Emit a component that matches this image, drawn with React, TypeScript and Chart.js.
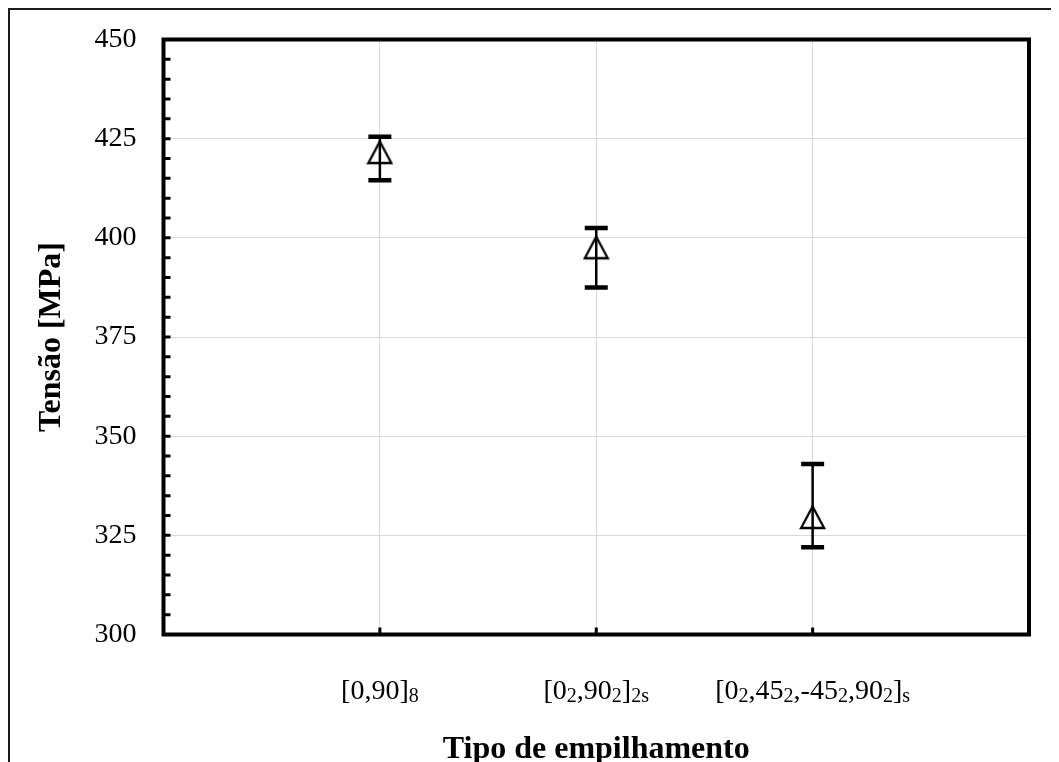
import React, { useEffect, useRef } from 'react';
import { Chart, registerables } from 'chart.js';

Chart.register(...registerables);

// Category labels: text inside {...} is a subscript
const categories = ['[0,90]{8}', '[0{2},90{2}]{2s}', '[0{2},45{2},-45{2},90{2}]{s}'];
const meanValues = [421.5, 397.5, 329.5];
const upperValues = [425.5, 402.5, 343];
const lowerValues = [414.5, 387.5, 322];
const yTickValues = [300, 325, 350, 375, 400, 425, 450];
const yMinorStep = 5;
const xTitle = 'Tipo de empilhamento';
const yTitle = 'Tensão [MPa]';

const FONT = "'Liberation Serif', 'Times New Roman', serif";
const CANVAS_W = 1100;
const CANVAS_H = 790;

function parseLabel(label: string) {
  const parts: { text: string; sub: boolean }[] = [];
  const re = /\{([^}]*)\}|([^{]+)/g;
  let m: RegExpExecArray | null;
  while ((m = re.exec(label)) !== null) {
    if (m[1] !== undefined) parts.push({ text: m[1], sub: true });
    else parts.push({ text: m[2], sub: false });
  }
  return parts;
}

function makeTriangleMarker() {
  const w = 27;
  const h = 27;
  const c = document.createElement('canvas');
  c.width = w;
  c.height = h;
  const g = c.getContext('2d')!;
  g.strokeStyle = '#000';
  g.lineWidth = 2.3;
  g.lineJoin = 'miter';
  g.beginPath();
  g.moveTo(w / 2, 2.5);
  g.lineTo(w / 2 + 11.5, h - 3);
  g.lineTo(w / 2 - 11.5, h - 3);
  g.closePath();
  g.stroke();
  return c;
}

const decorPlugin = {
  id: 'decor',
  beforeDatasetsDraw(chart: any) {
    const { ctx, scales } = chart;
    const x = scales.x;
    const y = scales.y;
    ctx.save();
    ctx.strokeStyle = '#000';
    meanValues.forEach((_, i) => {
      const px = x.getPixelForValue(i + 1);
      const top = y.getPixelForValue(upperValues[i]);
      const bot = y.getPixelForValue(lowerValues[i]);
      ctx.lineWidth = 2.5;
      ctx.beginPath();
      ctx.moveTo(px, top);
      ctx.lineTo(px, bot);
      ctx.stroke();
      ctx.lineWidth = 4.5;
      ctx.beginPath();
      ctx.moveTo(px - 11.5, top);
      ctx.lineTo(px + 11.5, top);
      ctx.moveTo(px - 11.5, bot);
      ctx.lineTo(px + 11.5, bot);
      ctx.stroke();
    });
    ctx.restore();
  },
  afterDraw(chart: any) {
    const { ctx, chartArea, scales } = chart;
    const x = scales.x;
    const y = scales.y;
    const { left, right, top, bottom } = chartArea;
    ctx.save();
    // ticks
    ctx.strokeStyle = '#000';
    ctx.lineWidth = 3;
    ctx.beginPath();
    for (let v = y.min; v <= y.max + 1e-9; v += yMinorStep) {
      const py = y.getPixelForValue(v);
      ctx.moveTo(left, py);
      ctx.lineTo(left + 7, py);
    }
    categories.forEach((_, i) => {
      const px = x.getPixelForValue(i + 1);
      ctx.moveTo(px, bottom);
      ctx.lineTo(px, bottom - 7);
    });
    ctx.stroke();
    // frame
    ctx.lineWidth = 4;
    ctx.lineJoin = 'miter';
    ctx.strokeRect(left, top, right - left, bottom - top);
    // category labels with subscripts
    const mainSize = 28;
    const subSize = 20;
    ctx.fillStyle = '#000';
    ctx.textBaseline = 'alphabetic';
    ctx.textAlign = 'left';
    categories.forEach((label, i) => {
      const parts = parseLabel(label);
      let total = 0;
      parts.forEach((p) => {
        ctx.font = `${p.sub ? subSize : mainSize}px ${FONT}`;
        total += ctx.measureText(p.text).width;
      });
      let cx = x.getPixelForValue(i + 1) - total / 2;
      const base = bottom + 64;
      parts.forEach((p) => {
        ctx.font = `${p.sub ? subSize : mainSize}px ${FONT}`;
        ctx.fillText(p.text, cx, p.sub ? base + 3 : base);
        cx += ctx.measureText(p.text).width;
      });
    });
    ctx.restore();
  },
};

export default function App() {
  const canvasRef = useRef<HTMLCanvasElement | null>(null);

  useEffect(() => {
    document.documentElement.style.overflow = 'hidden';
    document.body.style.overflow = 'hidden';
    const canvas = canvasRef.current;
    if (!canvas) return;
    const marker = makeTriangleMarker();
    const chart = new Chart(canvas, {
      type: 'scatter',
      data: {
        datasets: [
          {
            data: meanValues.map((v, i) => ({ x: i + 1, y: v })),
            pointStyle: marker as any,
            pointRadius: 13.5,
            pointHoverRadius: 13.5,
            borderColor: '#000',
            backgroundColor: 'rgba(0,0,0,0)',
            showLine: false,
          },
        ],
      },
      options: {
        animation: false,
        responsive: false,
        devicePixelRatio: 1,
        layout: { padding: { left: 0, top: 29.5, right: CANVAS_W - 1019, bottom: 0 } },
        plugins: { legend: { display: false }, tooltip: { enabled: false } },
        scales: {
          x: {
            type: 'linear',
            min: 0,
            max: categories.length + 1,
            afterBuildTicks: (s: any) => {
              s.ticks = categories.map((_, i) => ({ value: i + 1 }));
            },
            afterFit: (s: any) => {
              s.height = CANVAS_H - 624.5;
              s.paddingLeft = 0;
              s.paddingRight = 0;
            },
            ticks: { display: false },
            grid: { color: '#d9d9d9', lineWidth: 1, drawTicks: false },
            border: { display: false },
            title: {
              display: true,
              text: xTitle,
              color: '#000',
              font: { family: FONT, size: 32, weight: 'bold' },
              padding: { top: 0, bottom: 31 },
            },
          },
          y: {
            type: 'linear',
            min: 300,
            max: 450,
            afterBuildTicks: (s: any) => {
              s.ticks = yTickValues.map((v) => ({ value: v }));
            },
            afterFit: (s: any) => {
              s.width = 153.5;
              s.paddingTop = 0;
              s.paddingBottom = 0;
            },
            ticks: {
              color: '#000',
              font: { family: FONT, size: 28 },
              padding: 27,
            },
            grid: { color: '#d9d9d9', lineWidth: 1, drawTicks: false },
            border: { display: false },
            title: {
              display: true,
              text: yTitle,
              color: '#000',
              font: { family: FONT, size: 32, weight: 'bold' },
              padding: { top: 23, bottom: 0 },
            },
          },
        },
      },
      plugins: [decorPlugin],
    });
    return () => chart.destroy();
  }, []);

  return (
    <div style={{ border: '2px solid #1a1a1a', width: CANVAS_W, height: CANVAS_H }}>
      <canvas ref={canvasRef} width={CANVAS_W} height={CANVAS_H} style={{ display: 'block' }} />
    </div>
  );
}
